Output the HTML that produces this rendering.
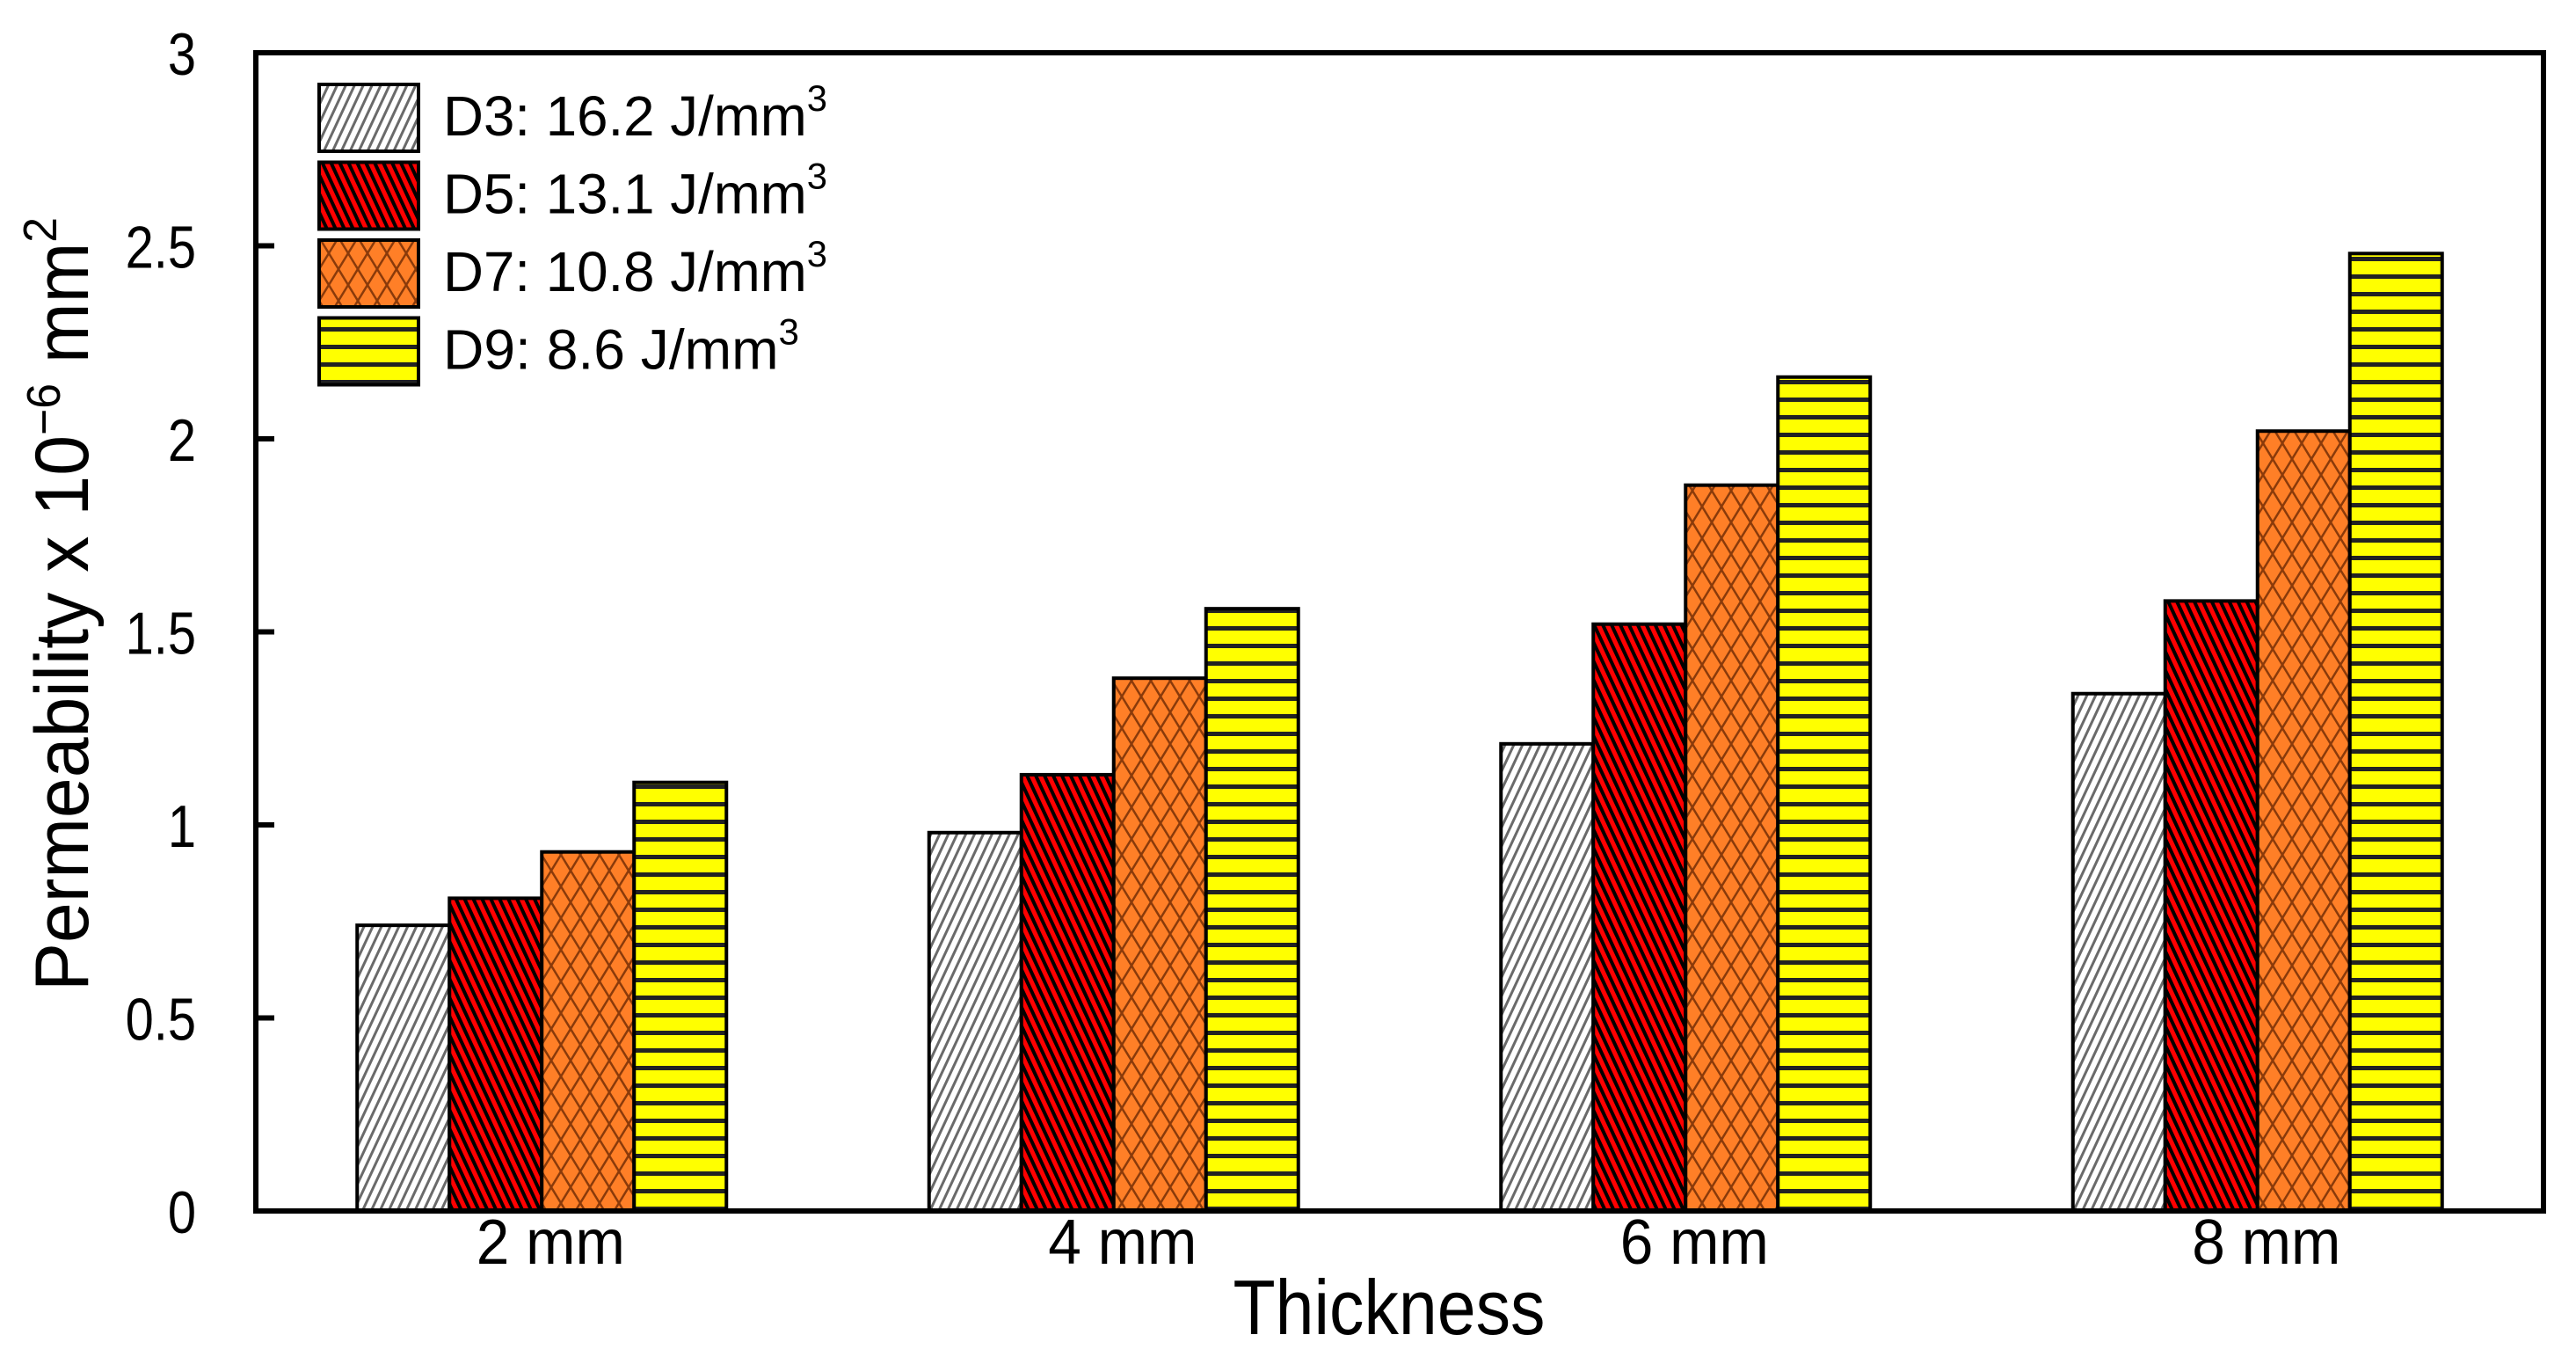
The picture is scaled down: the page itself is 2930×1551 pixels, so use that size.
<!DOCTYPE html>
<html><head><meta charset="utf-8"><style>
html,body{margin:0;padding:0;background:#fff;}
svg{display:block;font-family:"Liberation Sans",sans-serif;}
</style></head><body>
<svg width="2930" height="1551" viewBox="0 0 2930 1551">
<defs>
<pattern id="p3" width="9" height="9" patternUnits="userSpaceOnUse" patternTransform="rotate(25)">
<rect width="9" height="9" fill="#fff"/><rect x="0" width="3" height="9" fill="#6a6a6a"/></pattern>
<pattern id="p5" width="9" height="9" patternUnits="userSpaceOnUse" patternTransform="rotate(-25)">
<rect width="9" height="9" fill="#f00"/><rect x="0" width="4" height="9" fill="#000"/></pattern>
<pattern id="p7" width="22" height="36" patternUnits="userSpaceOnUse">
<rect width="22" height="36" fill="#ff7f27"/><path d="M0 0L22 36M22 0L0 36" stroke="#8a3a0a" stroke-width="2.5"/></pattern>
<pattern id="p9" width="20" height="20" patternUnits="userSpaceOnUse">
<rect width="20" height="20" fill="#ffff00"/><rect y="12" width="20" height="5" fill="#222"/></pattern>
</defs>
<g id="bars"></g>
<rect x="291" y="60" width="2602" height="1317" fill="none" stroke="#000" stroke-width="6"/>
<g id="ticks"></g>
<g id="xlabels"></g>
<text x="1580" y="1517" font-size="88" text-anchor="middle" textLength="355" lengthAdjust="spacingAndGlyphs">Thickness</text>
<text transform="translate(100,687) rotate(-90)" font-size="86" text-anchor="middle" textLength="880" lengthAdjust="spacingAndGlyphs">Permeability x 10<tspan font-size="54" dy="-32">−6</tspan><tspan dy="32">  mm</tspan><tspan font-size="54" dy="-36">2</tspan></text>
<g id="legend"></g>
</svg>
<script>
const categories = ["2 mm","4 mm","6 mm","8 mm"];
const seriesNames = ["D3: 16.2 J/mm","D5: 13.1 J/mm","D7: 10.8 J/mm","D9: 8.6 J/mm"];
const d3Values = [0.74, 0.98, 1.21, 1.34];
const d5Values = [0.81, 1.13, 1.52, 1.58];
const d7Values = [0.93, 1.38, 1.88, 2.02];
const d9Values = [1.11, 1.56, 2.16, 2.48];
const yTicks = [0, 0.5, 1, 1.5, 2, 2.5, 3];
const yTickLabels = ["0","0.5","1","1.5","2","2.5","3"];

const NS = "http://www.w3.org/2000/svg";
const X0 = 291, X1 = 2893, Y0 = 1377, Y1 = 60, YMAX = 3;
const series = [d3Values, d5Values, d7Values, d9Values];
const fills = ["url(#p3)","url(#p5)","url(#p7)","url(#p9)"];
const groupW = (X1 - X0) / categories.length;
const barW = 105;
function yScale(v){ return Y0 - (v / YMAX) * (Y0 - Y1); }
function groupCenter(i){ return X0 + groupW * (i + 0.5); }
function mk(tag, attrs, parent){ const e = document.createElementNS(NS, tag); for (const k in attrs) e.setAttribute(k, attrs[k]); parent.appendChild(e); return e; }

const bars = document.getElementById('bars');
categories.forEach((c, i) => {
  series.forEach((vals, s) => {
    const x = groupCenter(i) - 2 * barW + s * barW;
    const y = yScale(vals[i]);
    const r = mk('rect', {x: x, y: y, width: barW, height: Y0 - y, fill: fills[s], stroke: '#000', 'stroke-width': 4}, bars);
    
    
  });
});

const ticks = document.getElementById('ticks');
yTicks.forEach((t, i) => {
  const y = yScale(t);
  const l = mk('line', {x1: X0, x2: X0 + 21, y1: y, y2: y, stroke: '#000', 'stroke-width': 6}, ticks);
  
  
  const tx = mk('text', {x: 223, y: y + 25, 'font-size': 68, 'text-anchor': 'end', transform: 'translate(223 0) scale(0.85 1) translate(-223 0)'}, ticks);
  tx.textContent = yTickLabels[i];
  
  
});

const xl = document.getElementById('xlabels');
categories.forEach((c, i) => {
  const t = mk('text', {x: groupCenter(i) + 10, y: 1437, 'font-size': 72, 'text-anchor': 'middle', textLength: 169, lengthAdjust: 'spacingAndGlyphs'}, xl);
  t.textContent = c;
  
  
});

const lg = document.getElementById('legend');
seriesNames.forEach((n, s) => {
  const y = 96 + s * 88.5;
  const r = mk('rect', {x: 363, y: y, width: 113, height: 76, fill: fills[s], stroke: '#000', 'stroke-width': 4}, lg);
  
  
  const t = mk('text', {x: 504, y: y + 58, 'font-size': 64, textLength: (s === 3 ? 405 : 437), lengthAdjust: 'spacingAndGlyphs'}, lg);
  t.textContent = n;
  const sup = mk('tspan', {'font-size': 42, dy: -28}, t);
  sup.textContent = '3';
  
  
});
</script>
</body></html>
